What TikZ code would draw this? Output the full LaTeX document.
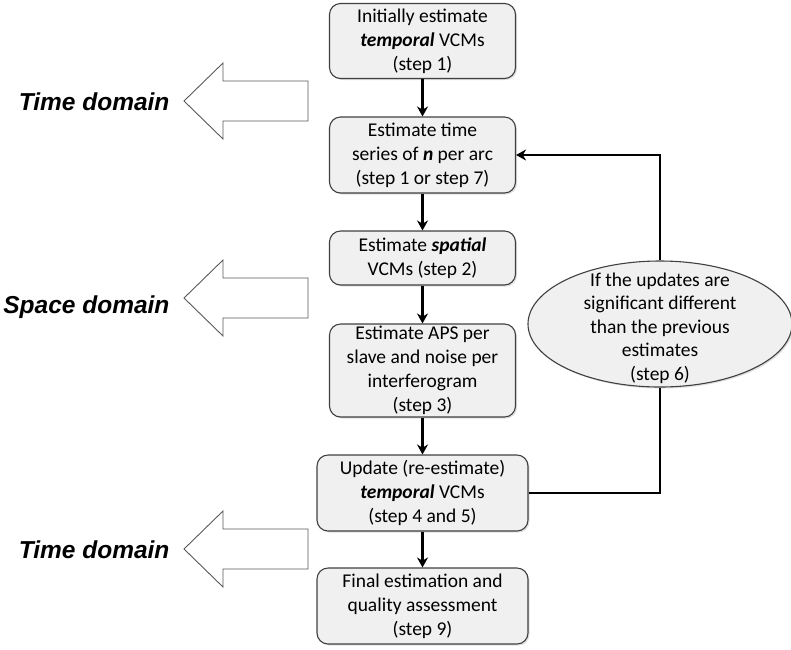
\documentclass[tikz,border=0pt]{standalone}
\usepackage{fontspec}
\setmainfont{Carlito}
\newfontfamily\domfont{Liberation Sans}
\usetikzlibrary{shapes.geometric,arrows.meta,shadows}

\begin{document}
\begin{tikzpicture}[x=1pt,y=-1pt,
  box/.style={draw=black!75,line width=1.1pt,fill=black!6,rounded corners=11pt,
    align=center,inner sep=2pt,font=\fontsize{19.5}{24}\selectfont,
    drop shadow={opacity=0.25,shadow xshift=1.5pt,shadow yshift=-1.5pt}},
  link/.style={line width=2.2pt,-{Stealth[length=10pt,width=11pt]}},
  blockarrow/.style={draw=black!65,line width=0.9pt,fill=white},
  domlabel/.style={font=\domfont\bfseries\itshape\fontsize{24.5}{28}\selectfont,anchor=base east}]
\useasboundingbox (0,0) rectangle (791,649);

% main chain
\node[box,minimum width=186,minimum height=75] (init) at (422.5,41) {Initially estimate\\\textbf{\textit{temporal}} VCMs\\(step 1)};
\node[box,minimum width=186,minimum height=76] (series) at (422.5,155) {Estimate time\\series of \textbf{\textit{n}} per arc\\(step 1 or step 7)};
\node[box,minimum width=186,minimum height=54] (spatial) at (422.5,258) {Estimate \textbf{\textit{spatial}}\\VCMs (step 2)};
\node[box,minimum width=186,minimum height=93] (aps) at (422.5,370.5) {Estimate APS per\\slave and noise per\\interferogram\\(step 3)};
\node[box,minimum width=211,minimum height=76] (update) at (422.5,493) {Update (re-estimate)\\\textbf{\textit{temporal}} VCMs\\(step 4 and 5)};
\node[box,minimum width=211,minimum height=76] (final) at (422.5,606) {Final estimation and\\quality assessment\\(step 9)};

\draw[link] (init) -- (series);
\draw[link] (series) -- (spatial);
\draw[link] (spatial) -- (aps);
\draw[link] (aps) -- (update);
\draw[link] (update) -- (final);

% loop back
\node[box,ellipse,rounded corners=0pt,minimum width=264,minimum height=126,inner sep=0pt] (check) at (660,324) {};
\node[align=center,font=\fontsize{19.5}{23.5}\selectfont] (checktext) at (660,328) {If the updates are\\significant different\\than the previous\\estimates\\(step 6)};
\draw[line width=2.2pt] (update.east) -| (check.south);
\draw[link] (check.north) |- (series.east);

% domains
\foreach \y/\by/\lbl in {101/110/Time domain,298/313/Space domain,549/558/Time domain}{
  \draw[blockarrow] (308,\y-20) -- (223,\y-20) -- (223,\y-38) -- (184,\y)
    -- (223,\y+38) -- (223,\y+20) -- (308,\y+20) -- cycle;
  \node[domlabel] (dom\y) at (173,\by) {\lbl};
}
\end{tikzpicture}
\end{document}
